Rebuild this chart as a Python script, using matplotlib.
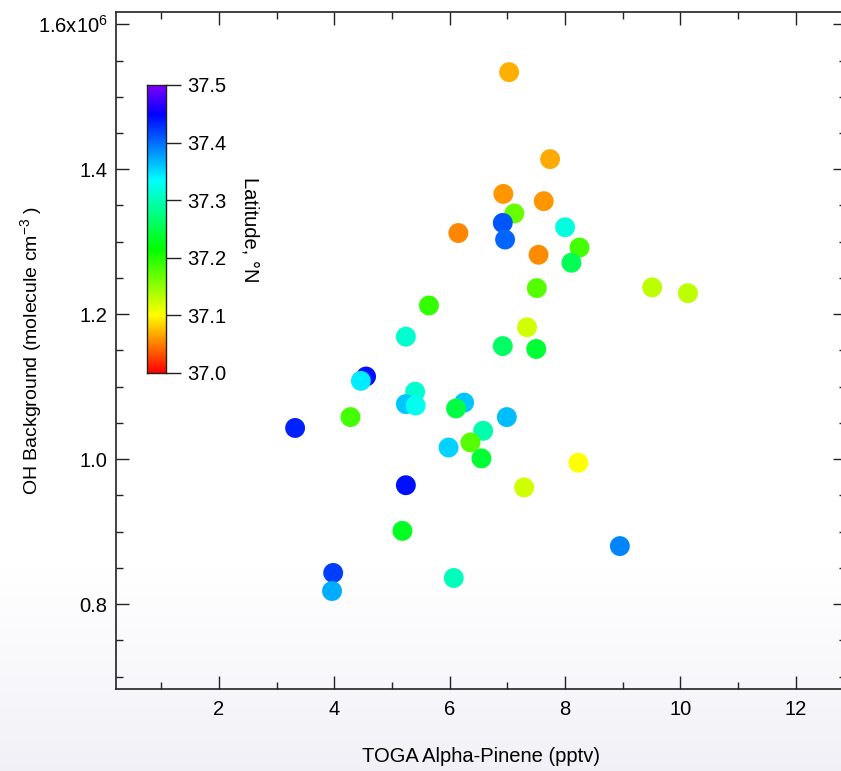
import numpy as np
import matplotlib
matplotlib.use("Agg")
import matplotlib.pyplot as plt
from matplotlib.colors import LinearSegmentedColormap, Normalize
from matplotlib.ticker import MultipleLocator, FixedLocator, FuncFormatter

plt.rcParams['font.family'] = ['Liberation Sans', 'DejaVu Sans']
plt.rcParams['mathtext.fontset'] = 'custom'
plt.rcParams['mathtext.rm'] = 'Liberation Sans'
plt.rcParams['mathtext.default'] = 'regular'

# TOGA alpha-pinene (pptv)
pinene = [7.03, 7.74, 6.93, 7.63, 7.12, 6.92, 8.00, 6.96, 6.15, 8.25, 7.54,
          8.11, 7.51, 9.51, 10.13, 7.34, 6.92, 7.50, 8.23, 7.29, 8.95,
          5.64, 5.24, 4.55, 4.46, 5.40, 5.24, 5.41, 6.25, 6.11, 6.99, 4.28,
          3.32, 6.58, 6.36, 5.98, 6.55, 5.24, 5.18, 3.98, 3.96, 6.07]
# OH background (molecule cm-3), units of 1e6
oh = [1.534, 1.414, 1.366, 1.356, 1.339, 1.326, 1.320, 1.303, 1.312, 1.292,
      1.282, 1.271, 1.236, 1.237, 1.229, 1.182, 1.156, 1.152, 0.995, 0.961,
      0.880, 1.212, 1.169, 1.114, 1.108, 1.093, 1.076, 1.074, 1.078, 1.070,
      1.058, 1.058, 1.043, 1.039, 1.023, 1.016, 1.001, 0.964, 0.901, 0.843,
      0.818, 0.836]
# Latitude (deg N)
lat = [37.069, 37.067, 37.060, 37.060, 37.169, 37.412, 37.319, 37.404, 37.053,
       37.184, 37.055, 37.255, 37.177, 37.129, 37.129, 37.123, 37.263, 37.239,
       37.100, 37.123, 37.389, 37.192, 37.311, 37.442, 37.343, 37.311, 37.360,
       37.327, 37.360, 37.247, 37.364, 37.184, 37.435, 37.295, 37.177, 37.354,
       37.239, 37.442, 37.231, 37.420, 37.373, 37.303]

cb_ticks = [37.0, 37.1, 37.2, 37.3, 37.4, 37.5]

W, H = 841, 771
fig = plt.figure(figsize=(W / 100, H / 100), dpi=100)
fig.patch.set_facecolor('white')

# soft background gradient at the bottom of the page
bg = fig.add_axes([0, 0, 1, 1], zorder=-10)
rows = np.linspace(0, 1, 400)
t = np.clip((rows * H - 570) / (H - 570), 0, 1)
top_c = np.array([1.0, 1.0, 1.0])
bot_c = np.array([0.948, 0.944, 0.968])
img = top_c[None, :] * (1 - t[:, None]) + bot_c[None, :] * t[:, None]
bg.imshow(img[:, None, :], aspect='auto', extent=[0, 1, 1, 0])
bg.set_axis_off()

# rainbow colour scale (red -> violet)
cmap = LinearSegmentedColormap.from_list(
    'igor_rainbow',
    [(0.0, (1, 0, 0)), (0.2, (1, 1, 0)), (0.43, (0, 1, 0)),
     (0.67, (0, 1, 1)), (0.9, (0, 0, 1)), (1.0, (0.5, 0, 1))])
norm = Normalize(37.0, 37.5)

ax = fig.add_axes([116 / W, (H - 689) / H, 730 / W, 677 / H])
ax.set_facecolor('none')
ax.scatter(pinene, np.array(oh) * 1e6, c=lat, cmap=cmap, norm=norm,
           s=205, linewidths=0, zorder=3)

ax.set_xlim(0.215, 12.87)
ax.set_ylim(0.6828e6, 1.617e6)

ax.xaxis.set_major_locator(MultipleLocator(2))
ax.xaxis.set_minor_locator(MultipleLocator(1))
ax.yaxis.set_major_locator(MultipleLocator(0.2e6))
ax.yaxis.set_minor_locator(MultipleLocator(0.05e6))


def yfmt(v, pos):
    if abs(v - 1.6e6) < 1:
        return r'1.6x10$^{6}$'
    return '%.1f' % (v / 1e6)


ax.yaxis.set_major_formatter(FuncFormatter(yfmt))

for sp in ax.spines.values():
    sp.set_linewidth(1.2)
    sp.set_color('#222222')
ax.tick_params(which='both', direction='in', top=True, right=True,
               color='#222222', width=1.0, labelsize=14.5)
ax.tick_params(which='major', length=9.5)
ax.tick_params(which='minor', length=5)
ax.tick_params(axis='x', pad=8)
ax.tick_params(axis='y', pad=6)

ax.set_xlabel('TOGA Alpha-Pinene (pptv)', fontsize=14.5, va='center')
ax.xaxis.set_label_coords(0.5, (689 - 757) / 677)
ax.set_ylabel(r'OH Background (molecule cm$^{-3}$ )', fontsize=14,
              va='center')
ax.yaxis.set_label_coords((31 - 116) / 730, 0.5)

# colour bar
cax = fig.add_axes([147 / W, (H - 373) / H, 19 / W, 288 / H])
grad = np.linspace(37.0, 37.5, 256)[:, None]
cax.imshow(grad, aspect='auto', cmap=cmap, norm=norm, origin='lower',
           extent=[0, 1, 37.0, 37.5])
cax.set_xlim(0, 1)
cax.set_ylim(37.0, 37.5)
cax.set_xticks([])
cax.yaxis.tick_right()
cax.yaxis.set_major_locator(FixedLocator(cb_ticks))
cax.yaxis.set_major_formatter(FuncFormatter(lambda v, p: '%.1f' % v))
cax.tick_params(axis='y', direction='out', length=10.5, width=1.0,
                color='#222222', labelsize=14.5, pad=5)
for sp in cax.spines.values():
    sp.set_linewidth(1.0)
    sp.set_color('#222222')
cax.text(250 / W, (H - 230) / H, 'Latitude, \u00b0N', transform=fig.transFigure,
         rotation=270, ha='center', va='center', fontsize=14.5)

fig.savefig('out.png', dpi=100)
